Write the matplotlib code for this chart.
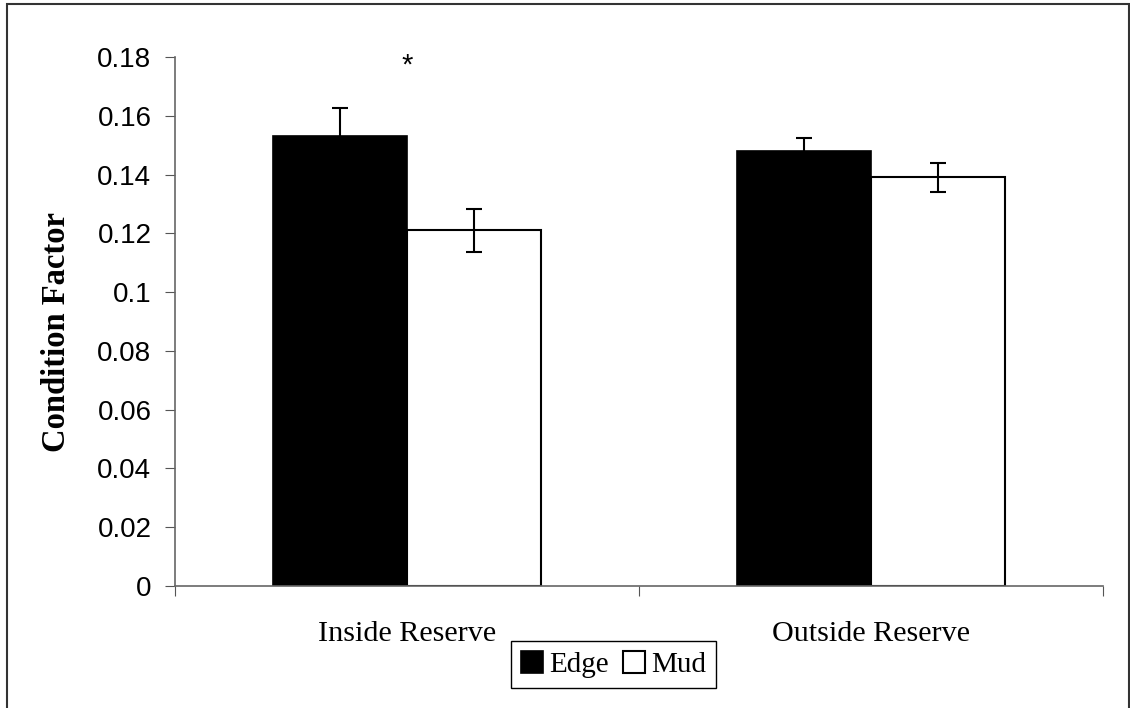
import numpy as np
import matplotlib
matplotlib.use("Agg")
import matplotlib.pyplot as plt
import matplotlib.patches as mpatches

# ── Data ──────────────────────────────────────────────
sites      = ["Inside Reserve", "Outside Reserve"]
edge_mean  = [0.153, 0.148]
edge_err   = [0.0097, 0.0045]
mud_mean   = [0.121, 0.139]
mud_err    = [0.0073, 0.0048]
yticks     = [0, 0.02, 0.04, 0.06, 0.08, 0.1, 0.12, 0.14, 0.16, 0.18]
ytick_lbls = ["0", "0.02", "0.04", "0.06", "0.08", "0.1", "0.12", "0.14", "0.16", "0.18"]

# ── Figure ────────────────────────────────────────────
fig = plt.figure(figsize=(11.3, 7.08), dpi=100)
ax = fig.add_axes([0.1549, 0.1723, 0.8212, 0.7472])

# outer frame (left, top, right visible)
fig.patches.append(mpatches.Rectangle(
    (7 / 1130, -0.05), (1129 - 7) / 1130, 1.05 - 4 / 708,
    transform=fig.transFigure, fill=False, edgecolor='#333333', linewidth=1.5))

centers = np.arange(len(sites)) + 0.5
w = 0.289
err_kw = dict(ecolor='black', elinewidth=1.5, capsize=6, capthick=1.5)

ax.bar(centers - w / 2, edge_mean, w, color='black', edgecolor='black',
       linewidth=1.2, yerr=edge_err, error_kw=err_kw, label='Edge', zorder=2)
ax.bar(centers + w / 2, mud_mean, w, color='white', edgecolor='black',
       linewidth=1.5, yerr=mud_err, error_kw=err_kw, label='Mud', zorder=2)

# significance marker
ax.text(centers[0], 0.1772, "*", ha='center', va='center', fontsize=21,
        family='Liberation Sans')

ax.set_xlim(0, len(sites))
ax.set_ylim(0, 0.18)
ax.set_yticks(yticks)
ax.set_yticklabels(ytick_lbls, family='Liberation Sans', fontsize=20)
ax.set_xticks(np.arange(len(sites) + 1))
ax.set_xticklabels([])
ax.set_xticks(centers, minor=True)
ax.set_xticklabels(sites, minor=True, family='Liberation Serif', fontsize=21.7)
ax.tick_params(axis='x', which='minor', length=0, pad=25)
ax.tick_params(axis='x', which='major', length=7, direction='out', color='#555555')
ax.tick_params(axis='y', length=7, direction='out', color='#555555', pad=10)

for s in ['top', 'right']:
    ax.spines[s].set_visible(False)
for s in ['left', 'bottom']:
    ax.spines[s].set_color('#666666')
    ax.spines[s].set_linewidth(1.2)

ax.set_ylabel("Condition Factor", family='Liberation Serif', fontweight='bold',
              fontsize=23.5)
ax.yaxis.set_label_coords(-0.111, 0.48)

leg = ax.legend(loc='upper center', bbox_to_anchor=(613.5 / 1130, 1 - 641 / 708),
                bbox_transform=fig.transFigure, ncol=2, frameon=True,
                fancybox=False, edgecolor='black', framealpha=1,
                prop={'family': 'Liberation Serif', 'size': 21},
                handlelength=0.75, handleheight=0.75, handletextpad=0.2,
                columnspacing=0.5, borderpad=0.35, borderaxespad=0)
leg.get_frame().set_linewidth(1.0)

fig.savefig("out.png", dpi=100)
